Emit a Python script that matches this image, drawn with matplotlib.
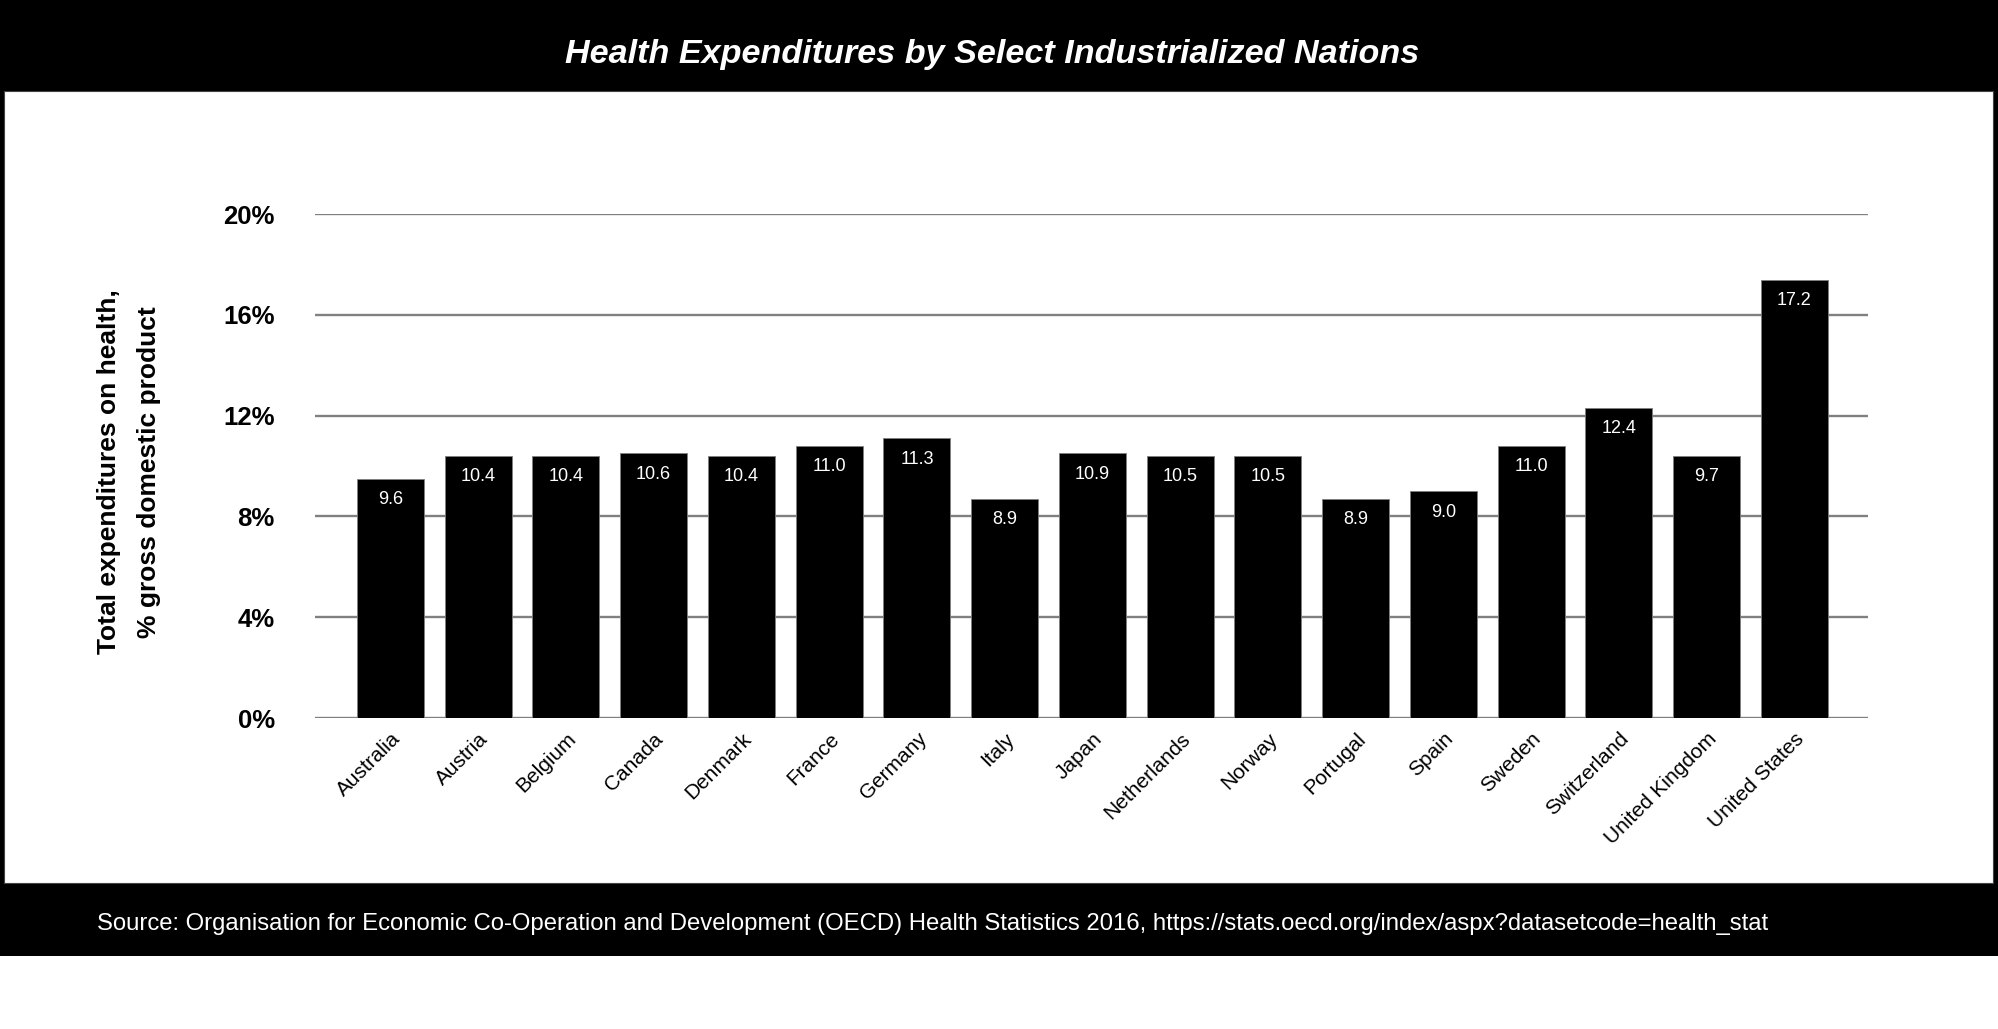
import matplotlib
matplotlib.use('Agg')
import matplotlib.pyplot as plt
from matplotlib.patches import Rectangle
from matplotlib.ticker import FuncFormatter

# data
countries = ['Australia', 'Austria', 'Belgium', 'Canada', 'Denmark', 'France',
             'Germany', 'Italy', 'Japan', 'Netherlands', 'Norway', 'Portugal',
             'Spain', 'Sweden', 'Switzerland', 'United Kingdom', 'United States']
# bar heights as drawn (% of GDP)
heights = [9.5, 10.4, 10.4, 10.5, 10.4, 10.8, 11.1, 8.7, 10.5, 10.4, 10.4,
           8.7, 9.0, 10.8, 12.3, 10.4, 17.4]
# value labels as printed on the bars
value_labels = ['9.6', '10.4', '10.4', '10.6', '10.4', '11.0', '11.3', '8.9',
                '10.9', '10.5', '10.5', '8.9', '9.0', '11.0', '12.4', '9.7', '17.2']
yticks = [0, 4, 8, 12, 16, 20]

title = 'Health Expenditures by Select Industrialized Nations'
ylabel = 'Total expenditures on health,\n% gross domestic product'
source = ('Source: Organisation for Economic Co-Operation and Development (OECD) '
          'Health Statistics 2016, https://stats.oecd.org/index/aspx?datasetcode=health_stat')

font = ['Liberation Sans', 'DejaVu Sans']

W, H = 1998, 1029
fig = plt.figure(figsize=(W / 100, H / 100), dpi=100, facecolor='white')

# black frame (banners) and white panel
fig.add_artist(Rectangle((0, (H - 956) / H), 1, 956 / H, transform=fig.transFigure,
                         facecolor='black', edgecolor='none', zorder=-10))
fig.add_artist(Rectangle((4 / W, (H - 883) / H), (1993 - 4) / W, (883 - 91) / H,
                         transform=fig.transFigure, facecolor='white',
                         edgecolor='#444444', linewidth=0.8, zorder=-9))

fig.text(992 / W, 1 - 63 / H, title, color='white', fontsize=24.6, fontweight='bold',
         fontstyle='italic', family=font, ha='center', va='baseline')
fig.text(97 / W, 1 - 930 / H, source, color='white', fontsize=17.2, family=font,
         ha='left', va='baseline')
fig.text(129 / W, 1 - 472 / H, ylabel, rotation=90, fontsize=19, fontweight='bold',
         family=font, ha='center', va='center', multialignment='center',
         linespacing=1.85)

ax = fig.add_axes([315 / W, (H - 718) / H, (1868 - 315) / W, (718 - 214) / H])
ax.set_facecolor('none')

x = list(range(len(countries)))
ax.bar(x, heights, width=0.765, color='black', edgecolor='#808080', linewidth=0.6,
       zorder=3)
for i, (h, lab) in enumerate(zip(heights, value_labels)):
    ax.annotate(lab, (i, h), xytext=(0, -15), textcoords='offset points',
                ha='center', va='center', color='white', fontsize=13,
                family=font, zorder=4)

ax.set_ylim(0, 20)
ax.set_xlim(-0.86, len(countries) - 1 + 0.84)
ax.set_yticks(yticks)
ax.yaxis.set_major_formatter(FuncFormatter(lambda v, p: f'{v:.0f}%'))
ax.grid(axis='y', color='#808080', linewidth=1.7, zorder=0)
ax.set_axisbelow(True)
for s in ax.spines.values():
    s.set_visible(False)
ax.tick_params(axis='y', length=0, pad=29, labelsize=18.5)
for t in ax.get_yticklabels():
    t.set_fontweight('bold')
    t.set_family(font)

ax.set_xticks(x)
ax.set_xticklabels(countries, rotation=45, ha='right', va='top',
                   rotation_mode='anchor', fontsize=15, family=font)
ax.tick_params(axis='x', length=0, pad=8)

fig.savefig('out.png', dpi=100, facecolor='white')
